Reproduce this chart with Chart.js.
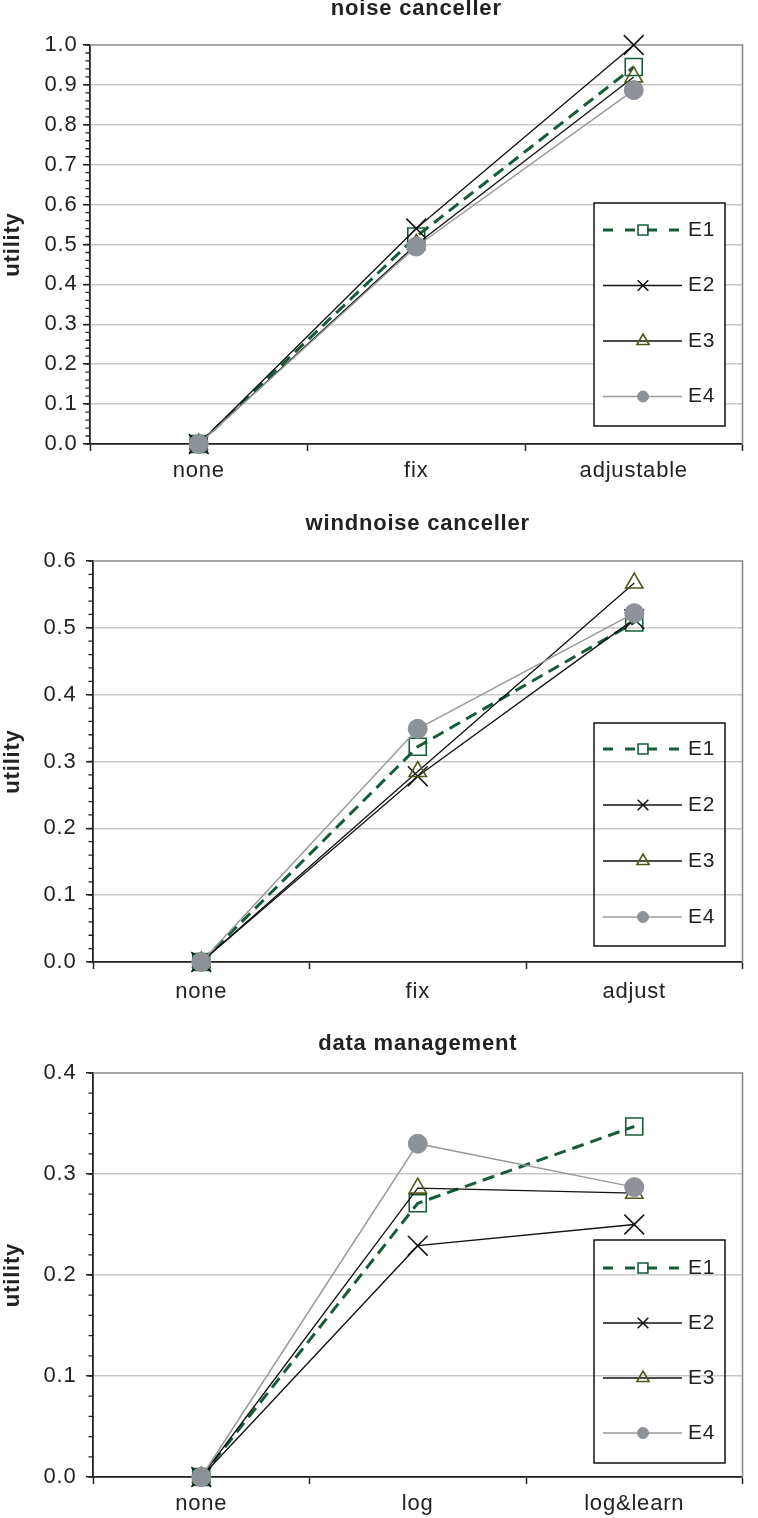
<!DOCTYPE html>
<html><head><meta charset="utf-8">
<script src="https://cdn.jsdelivr.net/npm/chart.js@4/dist/chart.umd.min.js"></script>
<style>
html,body{margin:0;padding:0;background:#fff;}
body{width:758px;height:1518px;position:relative;overflow:hidden;}
.box{position:absolute;left:0;width:758px;}
</style></head><body>
<div class="box" style="top:0;height:495px"><canvas id="c1"></canvas></div>
<div class="box" style="top:495px;height:515px"><canvas id="c2"></canvas></div>
<div class="box" style="top:1010px;height:508px"><canvas id="c3"></canvas></div>
<script>
// ---------- data ----------
const seriesNames = ['E1', 'E2', 'E3', 'E4'];

const noiseTitle = 'noise canceller';
const noiseCategories = ['none', 'fix', 'adjustable'];
const noiseE1 = [0, 0.52, 0.945];
const noiseE2 = [0, 0.54, 1.0];
const noiseE3 = [0, 0.50, 0.92];
const noiseE4 = [0, 0.495, 0.887];
const noiseYMax = 1.0;

const windTitle = 'windnoise canceller';
const windCategories = ['none', 'fix', 'adjust'];
const windE1 = [0, 0.322, 0.508];
const windE2 = [0, 0.278, 0.513];
const windE3 = [0, 0.285, 0.567];
const windE4 = [0, 0.349, 0.522];
const windYMax = 0.6;

const dataTitle = 'data management';
const dataCategories = ['none', 'log', 'log&learn'];
const dataE1 = [0, 0.271, 0.347];
const dataE2 = [0, 0.229, 0.250];
const dataE3 = [0, 0.286, 0.281];
const dataE4 = [0, 0.330, 0.287];
const dataYMax = 0.4;

const yMajorStep = 0.1;
const yMinorStep = 0.02;
const yAxisTitle = 'utility';

// ---------- styles ----------
const FONT = "'Liberation Sans', Arial, sans-serif";
const FS = 22;
const TXT = '#222';
const styles = [
  { borderColor: '#165c37', borderWidth: 3, borderDash: [12, 7], pointStyle: 'rect', pointRadius: 12,
    pointBorderColor: '#165c37', pointBackgroundColor: 'rgba(0,0,0,0)', pointBorderWidth: 1.6, legendRadius: 7, order: 3, legendDash: [10, 12] },
  { borderColor: '#111', borderWidth: 1.3, pointStyle: 'crossRot', pointRadius: 14,
    pointBorderColor: '#111', pointBackgroundColor: '#111', pointBorderWidth: 1.5, legendRadius: 7.5, order: 2 },
  { borderColor: '#111', borderWidth: 1.3, pointStyle: 'triangle', pointRadius: 10,
    pointBorderColor: '#55551f', pointBackgroundColor: 'rgba(0,0,0,0)', pointBorderWidth: 1.6, legendRadius: 7, order: 1 },
  { borderColor: '#9a9a9a', borderWidth: 1.5, pointStyle: 'circle', pointRadius: 9.5,
    pointBorderColor: '#8d9198', pointBackgroundColor: '#8d9198', pointBorderWidth: 1, legendRadius: 5.5, order: 0 }
];

function fallbackDrawPoint(ctx, o, x, y) {
  const r = o.radius;
  ctx.beginPath();
  if (o.pointStyle === 'rect') { const s = Math.SQRT1_2 * r; ctx.rect(x - s, y - s, 2 * s, 2 * s); }
  else if (o.pointStyle === 'crossRot') { const d = Math.SQRT1_2 * r; ctx.moveTo(x - d, y - d); ctx.lineTo(x + d, y + d); ctx.moveTo(x + d, y - d); ctx.lineTo(x - d, y + d); }
  else if (o.pointStyle === 'triangle') { ctx.moveTo(x, y - r); ctx.lineTo(x + r * Math.sin(2 * Math.PI / 3), y + r / 2); ctx.lineTo(x - r * Math.sin(2 * Math.PI / 3), y + r / 2); ctx.closePath(); }
  else { ctx.arc(x, y, r, 0, Math.PI * 2); }
  ctx.fill();
  if (o.borderWidth > 0) ctx.stroke();
}
const drawPoint = (Chart.helpers && Chart.helpers.drawPoint) ? Chart.helpers.drawPoint : fallbackDrawPoint;

// ---------- plugins ----------
const spacing = {
  id: 'spacing',
  beforeUpdate(chart) { chart.ctx.letterSpacing = '0.8px'; },
  beforeDraw(chart) { chart.ctx.letterSpacing = '0.8px'; }
};

const frame = {
  id: 'frame',
  beforeDatasetsDraw(chart, args, o) {
    const ctx = chart.ctx, a = chart.chartArea, ys = chart.scales.y;
    ctx.save();
    ctx.strokeStyle = '#8a8a8a';
    ctx.lineWidth = 1.6;
    ctx.beginPath();
    ctx.moveTo(a.left, a.top); ctx.lineTo(a.right, a.top); ctx.lineTo(a.right, a.bottom);
    ctx.stroke();
    ctx.strokeStyle = TXT;
    ctx.lineWidth = 1.3;
    ctx.beginPath();
    const n = Math.round(ys.max / o.minor);
    for (let i = 0; i <= n; i++) {
      const py = ys.getPixelForValue(i * o.minor);
      ctx.moveTo(a.left - 4.5, py); ctx.lineTo(a.left, py);
    }
    ctx.stroke();
    ctx.restore();
  }
};

const legendBox = {
  id: 'legendBox',
  afterDraw(chart, args, o) {
    const ctx = chart.ctx, a = chart.chartArea;
    const left = o.left, bottom = a.bottom - o.bottomGap, top = bottom - o.height;
    ctx.save();
    if (o.fill) { ctx.fillStyle = '#fff'; ctx.fillRect(left, top, o.width, o.height); }
    ctx.setLineDash([]);
    ctx.strokeStyle = '#111'; ctx.lineWidth = 1.5;
    ctx.strokeRect(left, top, o.width, o.height);
    chart.data.datasets.forEach((ds, i) => {
      const y = top + o.firstRow + i * o.rowGap;
      ctx.beginPath();
      ctx.setLineDash(ds.legendDash || []);
      ctx.strokeStyle = ds.borderColor; ctx.lineWidth = ds.borderWidth;
      ctx.moveTo(left + 9, y); ctx.lineTo(left + 88, y);
      ctx.stroke();
      ctx.setLineDash([]);
      ctx.fillStyle = ds.pointBackgroundColor; ctx.strokeStyle = ds.pointBorderColor; ctx.lineWidth = ds.pointBorderWidth;
      drawPoint(ctx, { pointStyle: ds.pointStyle, radius: ds.legendRadius, rotation: 0, borderWidth: ds.pointBorderWidth }, left + 49, y);
      ctx.fillStyle = TXT;
      ctx.font = '21px ' + FONT;
      ctx.textAlign = 'left'; ctx.textBaseline = 'middle';
      ctx.fillText(ds.label, left + 94, y);
    });
    ctx.restore();
  }
};

// ---------- builder ----------
function makeChart(id, cfg) {
  const datasets = cfg.series.map((vals, i) => Object.assign({
    label: seriesNames[i], data: vals, tension: 0, fill: false, clip: false, pointHoverRadius: 0
  }, styles[i]));
  return new Chart(document.getElementById(id), {
    type: 'line',
    data: { labels: cfg.categories, datasets },
    plugins: [spacing, frame, legendBox],
    options: {
      responsive: true, maintainAspectRatio: false, animation: false,
      events: [],
      layout: { padding: cfg.padding },
      plugins: {
        legend: { display: false },
        tooltip: { enabled: false },
        title: { display: true, text: cfg.title, fullSize: false, color: TXT,
          font: { family: FONT, size: FS, weight: 'bold' }, padding: { top: 0, bottom: cfg.titleGap } },
        frame: { minor: yMinorStep },
        legendBox: cfg.legend
      },
      scales: {
        x: {
          type: 'category', offset: true,
          ticks: { padding: cfg.xPad, color: TXT, font: { family: FONT, size: FS }, maxRotation: 0, autoSkip: false },
          grid: { offset: true, drawOnChartArea: false, tickLength: 7, tickColor: TXT, tickWidth: 1.5 },
          border: { color: TXT, width: 1.8 },
          afterFit: s => { s.height = cfg.xHeight; }
        },
        y: {
          min: 0, max: cfg.yMax,
          ticks: { stepSize: yMajorStep, padding: cfg.yPad, color: TXT, font: { family: FONT, size: FS },
            callback: v => Number(v).toFixed(1) },
          grid: { color: c => (c.tick && Math.abs(c.tick.value - cfg.yMax) < 1e-9) ? 'rgba(0,0,0,0)' : '#c8c8c8',
            lineWidth: 1.5, tickLength: 7, tickColor: TXT, tickWidth: 1.5 },
          border: { color: TXT, width: 1.8 },
          title: { display: true, text: yAxisTitle, color: TXT, font: { family: FONT, size: FS, weight: 'bold' }, padding: { top: 0, bottom: 0 } },
          afterFit: s => { s.width = cfg.yWidth; }
        }
      }
    }
  });
}

makeChart('c1', {
  title: noiseTitle, categories: noiseCategories, series: [noiseE1, noiseE2, noiseE3, noiseE4], yMax: noiseYMax,
  padding: { top: -3.8, left: 0, right: 11, bottom: 0 }, titleGap: 22.4, xHeight: 51, xPad: 7.2, yWidth: 90, yPad: 5.5,
  legend: { left: 594, width: 131, height: 223, bottomGap: 18, firstRow: 27, rowGap: 55.5, fill: true }
});
makeChart('c2', {
  title: windTitle, categories: windCategories, series: [windE1, windE2, windE3, windE4], yMax: windYMax,
  padding: { top: 16.2, left: 0, right: 6, bottom: 0 }, titleGap: 23.4, xHeight: 48, xPad: 10.2, yWidth: 93, yPad: 9.5,
  legend: { left: 594, width: 131, height: 223, bottomGap: 16, firstRow: 26, rowGap: 56, fill: false }
});
makeChart('c3', {
  title: dataTitle, categories: dataCategories, series: [dataE1, dataE2, dataE3, dataE4], yMax: dataYMax,
  padding: { top: 21.2, left: 0, right: 1, bottom: 0 }, titleGap: 15.4, xHeight: 41, xPad: 7.2, yWidth: 93, yPad: 9.5,
  legend: { left: 594, width: 131, height: 223, bottomGap: 14, firstRow: 28, rowGap: 55, fill: false }
});
</script>
</body></html>
